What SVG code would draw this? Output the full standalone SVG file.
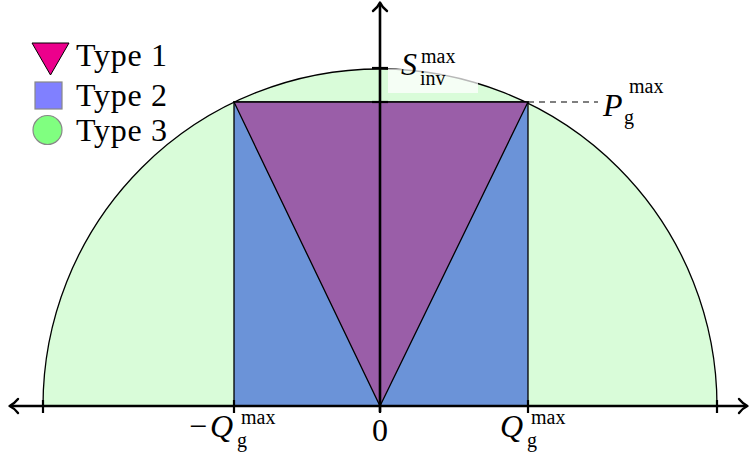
<svg xmlns="http://www.w3.org/2000/svg" width="750" height="456" viewBox="0 0 750 456">
<style>
text{font-family:'Liberation Serif','DejaVu Serif',serif;fill:#000}
.m{font-size:32px}
.s{font-size:20px}
.i{font-style:italic}
.ax{stroke:#000;stroke-width:2.6;fill:none}
.tk{stroke:#000;stroke-width:2.2}
.ah{stroke:#000;stroke-width:2.4;fill:none;stroke-linecap:round;stroke-linejoin:round}
</style>
<rect width="750" height="456" fill="#fff"/>
<g id="type3-region">
<path d="M43,406 A337,337 0 0 1 717,406 Z" fill="#d9fcd9" stroke="#000" stroke-width="1.3"/>
</g>
<g id="type2-region">
<rect x="234" y="102" width="294" height="304" fill="#6b93d8" stroke="#000" stroke-width="1.3"/>
</g>
<g id="type1-region">
<polygon points="234,102 528,102 380,406" fill="#9a5ea8" stroke="#000" stroke-width="1.3"/>
</g>
<g id="sinv-label">
<rect x="388" y="69" width="90" height="24" fill="#fff" fill-opacity="0.72"/>
<text class="m i" x="401" y="75">S</text>
<text class="s" x="421" y="63">max</text>
<text class="s" x="420" y="85">inv</text>
</g>
<g id="connectors">
<line class="ax" x1="11" y1="406" x2="746" y2="406"/>
<line class="ax" x1="380" y1="412" x2="380" y2="4"/>
<path class="ah" d="M18,399 Q14,404 9.5,406 Q14,408 18,413"/>
<path class="ah" d="M739,399 Q743,404 747.5,406 Q743,408 739,413"/>
<path class="ah" d="M373,11 Q378,7 380,2.5 Q382,7 387,11"/>
<line class="tk" x1="43" y1="400" x2="43" y2="413"/>
<line class="tk" x1="234" y1="400" x2="234" y2="413"/>
<line class="tk" x1="380" y1="400" x2="380" y2="413"/>
<line class="tk" x1="528" y1="400" x2="528" y2="413"/>
<line class="tk" x1="717" y1="400" x2="717" y2="413"/>
<line class="tk" x1="372" y1="68" x2="388" y2="68"/>
<line class="tk" x1="372" y1="102" x2="388" y2="102"/>
<line x1="528" y1="102" x2="598" y2="102" stroke="#000" stroke-width="1.2" stroke-dasharray="6,5"/>
</g>
<g id="pg-label">
<text class="m i" x="603" y="116">P</text>
<text class="s" x="629" y="93">max</text>
<text class="s" x="624" y="124">g</text>
</g>
<g id="neg-q-label">
<text class="m" x="189" y="437">−</text>
<text class="m i" x="210" y="437">Q</text>
<text class="s" x="241" y="424">max</text>
<text class="s" x="237" y="447">g</text>
</g>
<g id="zero-label">
<text class="m" x="380" y="441" text-anchor="middle">0</text>
</g>
<g id="q-label">
<text class="m i" x="500" y="437">Q</text>
<text class="s" x="531" y="424">max</text>
<text class="s" x="527" y="447">g</text>
</g>
<g id="legend">
<g id="legend-type1">
<polygon points="32,43 69,43 50.5,75" fill="#ec008c" stroke="#000" stroke-width="1"/>
<text class="m" x="76" y="66" textLength="91">Type 1</text>
</g>
<g id="legend-type2">
<rect x="35" y="82" width="27" height="27" fill="#8080ff" stroke="#888" stroke-width="1.2"/>
<text class="m" x="76" y="106" textLength="91">Type 2</text>
</g>
<g id="legend-type3">
<circle cx="47.5" cy="130" r="14.5" fill="#80ff80" stroke="#888" stroke-width="1.2"/>
<text class="m" x="76" y="141" textLength="91">Type 3</text>
</g>
</g>
</svg>
